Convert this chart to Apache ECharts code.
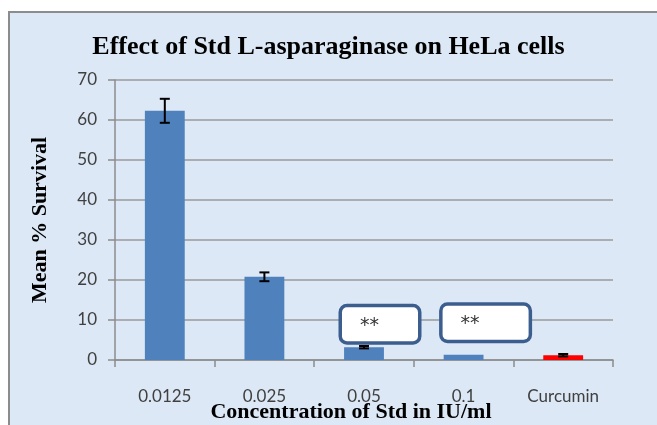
<!DOCTYPE html>
<html>
<head>
<meta charset="utf-8">
<script src="https://cdn.jsdelivr.net/npm/echarts@6/dist/echarts.min.js"></script>
<style>
  html, body { margin: 0; padding: 0; background: #fff; }
  #chart { width: 657px; height: 425px; }
</style>
</head>
<body>
<div id="chart"></div>
<script>
var categories = ['0.0125', '0.025', '0.05', '0.1', 'Curcumin'];
var survival = [62.3, 20.8, 3.2, 1.3, 1.2];
var errors = [3.0, 1.1, 0.3, 0, 0.3];
var barColors = ['#4f81bd', '#4f81bd', '#4f81bd', '#4f81bd', '#ff0000'];
var marks = ['', '', '**', '**', ''];
var yTicks = [0, 10, 20, 30, 40, 50, 60, 70];

var serif = '"Liberation Serif", "DejaVu Serif", serif';
var sans = 'Lato, "Liberation Sans", sans-serif';

// where the ** boxes sit relative to their bar (offset x, distance above the bar top)
var boxPlace = {
  2: { dx: -22, dist: 6, w: 38, pr: 20 },
  3: { dx: -21, dist: 15, w: 46, pr: 22 }
};

var barData = survival.map(function (v, i) {
  var item = { value: v, itemStyle: { color: barColors[i] } };
  if (marks[i]) {
    var p = boxPlace[i];
    item.label = {
      show: true,
      position: 'top',
      distance: p.dist,
      offset: [p.dx, 0],
      formatter: marks[i],
      color: '#333',
      fontFamily: '"DejaVu Sans", sans-serif',
      fontSize: 19,
      width: p.w,
      align: 'left',
      backgroundColor: '#ffffff',
      borderColor: '#3b5e8f',
      borderWidth: 3.5,
      borderRadius: 5,
      padding: [9, p.pr, 6, 18]
    };
  }
  return item;
});

var errData = survival.map(function (v, i) {
  return [i, v - errors[i], v + errors[i]];
});

var chart = echarts.init(document.getElementById('chart'));
chart.setOption({
  backgroundColor: '#ffffff',
  animation: false,
  graphic: [{
    type: 'rect',
    z: -10,
    shape: { x: 9, y: 12, width: 700, height: 430 },
    style: { fill: '#dce8f5', stroke: '#8c8c8c', lineWidth: 2 }
  }],
  title: {
    text: 'Effect of Std L-asparaginase on HeLa cells',
    left: 'center',
    top: 29,
    textStyle: { fontFamily: serif, fontWeight: 'bold', fontSize: 26, color: '#000' }
  },
  grid: { left: 115, right: 44, top: 80, bottom: 65, outerBoundsMode: 'none' },
  xAxis: {
    type: 'category',
    data: categories,
    name: 'Concentration of Std in IU/ml',
    nameLocation: 'middle',
    nameGap: 41,
    nameMoveOverlap: false,
    nameTextStyle: { fontFamily: serif, fontWeight: 'bold', fontSize: 22, color: '#000', padding: [0, 26, 0, 0] },
    axisLine: { lineStyle: { color: '#8c8c8c', width: 1.5 } },
    axisTick: { show: true, length: 7, lineStyle: { color: '#8c8c8c', width: 1.5 } },
    axisLabel: { margin: 28, fontFamily: sans, fontSize: 17, color: '#404040' }
  },
  yAxis: {
    type: 'value',
    min: 0,
    max: 70,
    interval: 10,
    name: 'Mean % Survival',
    nameLocation: 'middle',
    nameGap: 64,
    nameRotate: 90,
    nameMoveOverlap: false,
    nameTextStyle: { fontFamily: serif, fontWeight: 'bold', fontSize: 22, color: '#000' },
    axisLine: { show: true, lineStyle: { color: '#8c8c8c', width: 1.5 } },
    axisTick: { show: true, length: 7, lineStyle: { color: '#8c8c8c', width: 1.5 } },
    axisLabel: {
      margin: 18, fontFamily: sans, fontSize: 17, color: '#404040',
      formatter: function (v) { return yTicks.indexOf(v) >= 0 ? String(v) : ''; }
    },
    splitLine: { show: true, lineStyle: { color: '#9a9a9a', width: 1.5 } }
  },
  series: [{
    type: 'bar',
    data: barData,
    barWidth: '40%',
    z: 2
  }, {
    type: 'custom',
    data: errData,
    z: 3,
    renderItem: function (params, api) {
      if (api.value(2) - api.value(1) <= 0) return null;
      var lo = api.coord([api.value(0), api.value(1)]);
      var hi = api.coord([api.value(0), api.value(2)]);
      var half = 5;
      var st = { stroke: '#000', lineWidth: 2 };
      return {
        type: 'group',
        children: [
          { type: 'line', shape: { x1: lo[0], y1: lo[1], x2: hi[0], y2: hi[1] }, style: st },
          { type: 'line', shape: { x1: hi[0] - half, y1: hi[1], x2: hi[0] + half, y2: hi[1] }, style: st },
          { type: 'line', shape: { x1: lo[0] - half, y1: lo[1], x2: lo[0] + half, y2: lo[1] }, style: st }
        ]
      };
    }
  }]
});
</script>
</body>
</html>
